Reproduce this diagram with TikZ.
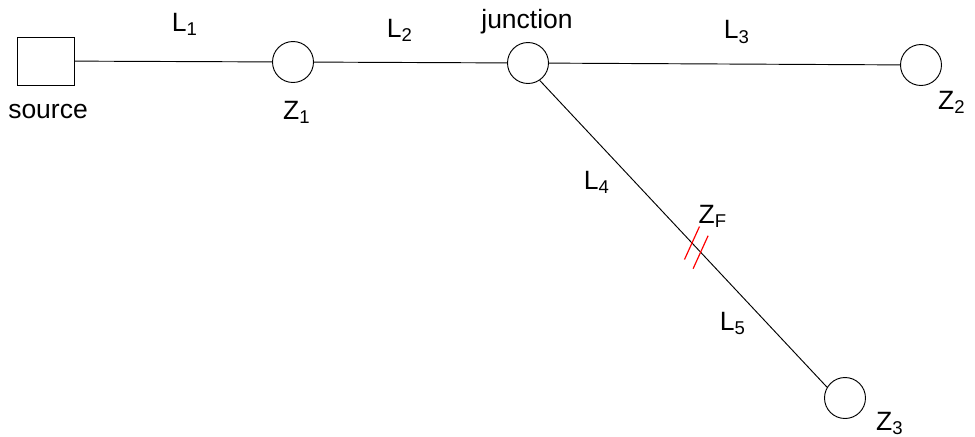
\documentclass[tikz,border=0pt]{standalone}
\usepackage{fontspec}
\setmainfont{Liberation Sans}
\begin{document}
\begin{tikzpicture}[bus/.style={draw, circle, minimum size=0.615cm, inner sep=0},
    src/.style={draw, rectangle, minimum width=0.855cm, minimum height=0.72cm, inner sep=0},
    fault/.style={red, line width=0.5pt},
    every node/.style={font=\fontsize{11.3pt}{13pt}\selectfont}]
    \useasboundingbox (0,0) rectangle (14.625,6.54);
    \node[src] (source) at (0.683,5.625) {};
    \node[bus] (Z1) at (4.395,5.61) {};
    \node[bus] (junction) at (7.92,5.595) {};
    \node[bus] (Z2) at (13.815,5.565) {};
    \node[bus] (Z3) at (12.675,0.57) {};
    \draw (source) -- (Z1);
    \draw (Z1) -- (junction);
    \draw (junction) -- (Z2);
    \draw (junction.-56) -- coordinate[pos=0.53] (f1) coordinate[pos=0.56] (f2) (Z3.149);
    \draw[fault] (f1) ++(-0.1125,-0.2475) -- ++(0.225,0.495);
    \draw[fault] (f2) ++(-0.1125,-0.2475) -- ++(0.225,0.495);
    \node (source label) at (0.72,4.86) {source};
    \node (Z1 label) at (4.455,4.86) {Z\textsubscript{1}};
    \node (L1) at (2.775,6.18) {L\textsubscript{1}};
    \node (L2) at (6.0,6.09) {L\textsubscript{2}};
    \node (junction label) at (7.905,6.21) {junction};
    \node (L3) at (11.055,6.06) {L\textsubscript{3}};
    \node (Z2 label) at (14.28,5.01) {Z\textsubscript{2}};
    \node (Z3 label) at (13.35,0.19) {Z\textsubscript{3}};
    \node (L4) at (8.955,3.8) {L\textsubscript{4}};
    \node (ZF) at (10.695,3.29) {Z\textsubscript{F}};
    \node (L5) at (10.995,1.69) {L\textsubscript{5}};
\end{tikzpicture}
\end{document}
